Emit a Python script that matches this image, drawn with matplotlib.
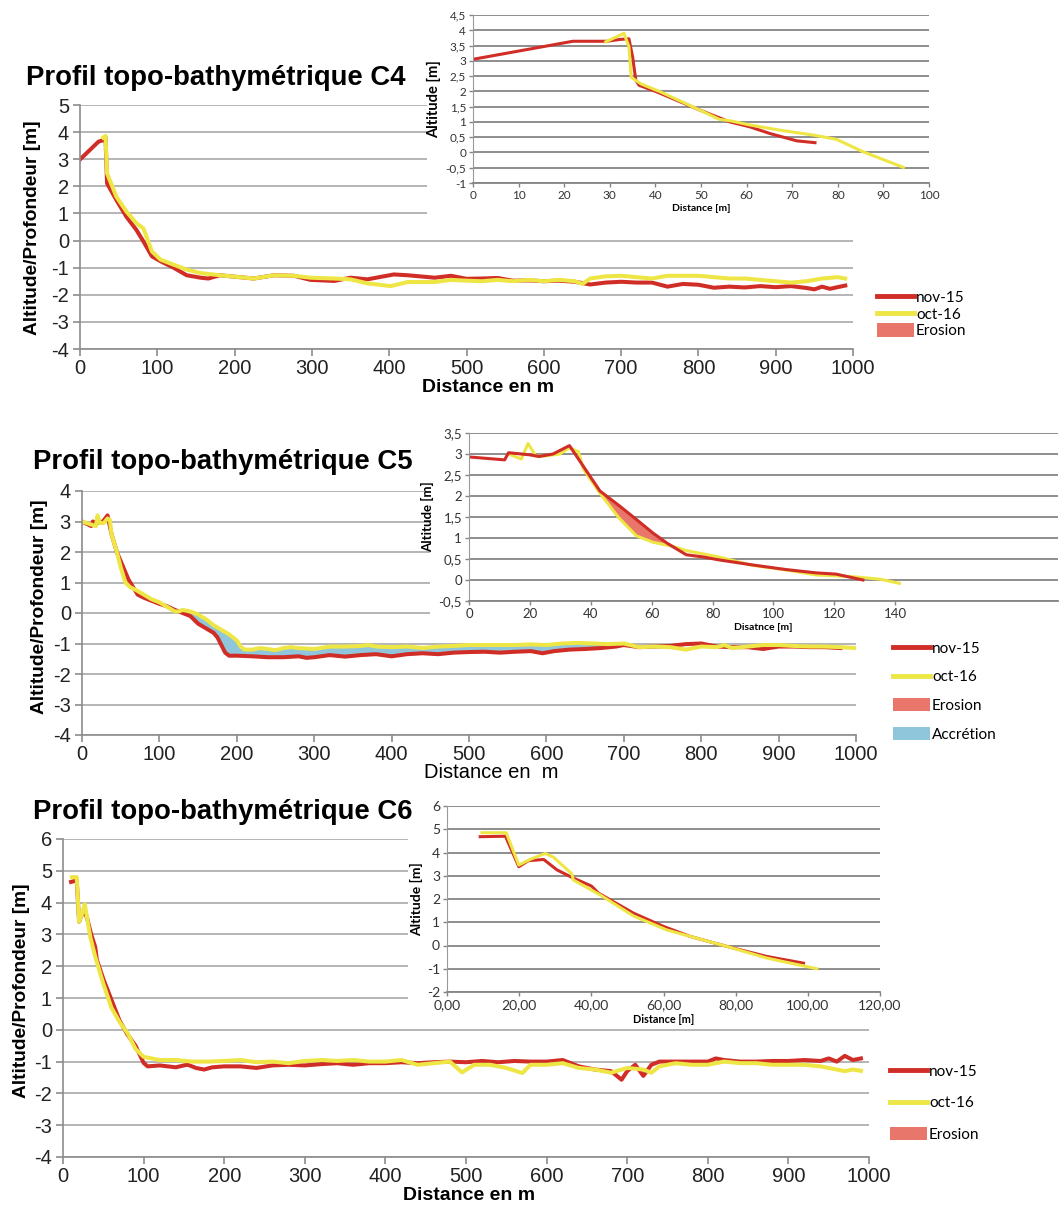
import numpy as np
import matplotlib
matplotlib.use("Agg")
import matplotlib.pyplot as plt
from matplotlib.lines import Line2D
from matplotlib.patches import Patch
from matplotlib.ticker import FuncFormatter

plt.rcParams["axes.unicode_minus"] = False

W, H = 1060, 1211
RED = "#d12d27"
YEL = "#eee645"
ERO = "#e8766b"
ACC = "#8fc6dc"
MAIN_FONT = "Liberation Sans"
INSET_FONT = "Lato"

# ---- C4 : main profile (distance m / altitude m)
c4_nov_x = [0, 24, 30, 33, 35, 47, 60, 73, 82, 93, 104, 121, 138, 156, 166, 181, 199, 225, 251, 277,
            298, 329, 350, 372, 406, 424, 459, 480, 500, 520, 540, 560, 580, 600, 620, 640, 660, 680,
            700, 720, 740, 760, 780, 800, 820, 840, 860, 880, 900, 920, 940, 950, 960, 970, 990]
c4_nov_y = [2.99, 3.65, 3.7, 3.8, 2.11, 1.5, 0.88, 0.39, -0.03, -0.58, -0.76, -1.0, -1.28, -1.37, -1.4,
            -1.28, -1.33, -1.4, -1.28, -1.3, -1.45, -1.49, -1.37, -1.43, -1.25, -1.28, -1.37, -1.3,
            -1.41, -1.4, -1.38, -1.48, -1.47, -1.5, -1.48, -1.52, -1.62, -1.55, -1.52, -1.55, -1.55,
            -1.7, -1.6, -1.63, -1.74, -1.7, -1.73, -1.68, -1.72, -1.68, -1.75, -1.8, -1.7, -1.78, -1.66]
c4_oct_x = [30, 33, 35, 47, 60, 73, 82, 93, 104, 121, 138, 156, 181, 199, 225, 251, 277, 298, 329, 350,
            372, 402, 424, 459, 480, 500, 520, 540, 560, 580, 600, 620, 640, 650, 660, 680, 700, 720,
            740, 760, 780, 800, 820, 840, 860, 880, 900, 920, 940, 960, 980, 990]
c4_oct_y = [3.8, 3.86, 2.48, 1.62, 1.07, 0.64, 0.45, -0.4, -0.7, -0.89, -1.07, -1.2, -1.28, -1.33, -1.4,
            -1.28, -1.3, -1.37, -1.4, -1.43, -1.58, -1.68, -1.53, -1.53, -1.45, -1.48, -1.5, -1.45,
            -1.5, -1.45, -1.5, -1.45, -1.5, -1.6, -1.4, -1.32, -1.3, -1.35, -1.4, -1.3, -1.3, -1.3,
            -1.35, -1.4, -1.4, -1.45, -1.5, -1.55, -1.5, -1.4, -1.35, -1.4]

# ---- C4 : inset (beach zoom)
c4i_nov_x = [0, 21.9, 29.3, 32.2, 34.2, 35, 35.7, 36.4, 40.2, 49.7, 56.3, 60.7, 65.1, 71, 75]
c4i_nov_y = [3.05, 3.64, 3.64, 3.7, 3.72, 3.13, 2.37, 2.2, 1.99, 1.39, 1.0, 0.84, 0.62, 0.38, 0.32]
c4i_oct_x = [29.1, 33.1, 34.2, 34.7, 36.9, 41, 49.7, 54.1, 56.3, 60.7, 67.3, 74.6, 79.7, 85.6, 94.4]
c4i_oct_y = [3.62, 3.9, 3.46, 2.46, 2.24, 1.99, 1.39, 1.08, 1.04, 0.9, 0.73, 0.57, 0.43, 0.02, -0.49]

# ---- C5 : main profile
c5_nov_x = [0, 12, 14, 20, 27, 33, 38, 45, 50, 55, 60, 66, 72, 80, 90, 100, 110, 120, 130, 140, 150,
            160, 170, 175, 180, 185, 190, 200, 220, 240, 260, 280, 290, 300, 320, 340, 360, 380, 400,
            420, 440, 460, 480, 500, 520, 540, 560, 580, 595, 610, 630, 650, 670, 690, 700, 720, 740,
            760, 780, 800, 820, 840, 860, 880, 900, 920, 940, 960, 980]
c5_nov_y = [3.0, 2.85, 3.0, 2.95, 3.0, 3.2, 2.6, 2.0, 1.7, 1.4, 1.1, 0.85, 0.6, 0.5, 0.4, 0.3, 0.22,
            0.1, 0.0, -0.1, -0.35, -0.5, -0.65, -0.8, -1.05, -1.3, -1.4, -1.4, -1.42, -1.45, -1.45,
            -1.42, -1.47, -1.45, -1.38, -1.43, -1.38, -1.35, -1.42, -1.35, -1.32, -1.35, -1.3, -1.28,
            -1.27, -1.3, -1.27, -1.25, -1.32, -1.25, -1.2, -1.18, -1.15, -1.1, -1.05, -1.12, -1.1,
            -1.08, -1.02, -1.0, -1.1, -1.12, -1.12, -1.18, -1.1, -1.1, -1.12, -1.12, -1.15]
c5_oct_x = [0, 12, 18, 20, 23, 28, 33, 36, 38, 45, 50, 56, 62, 70, 80, 90, 100, 110, 120, 125, 130,
            140, 150, 160, 170, 180, 190, 200, 205, 210, 220, 230, 240, 250, 260, 270, 280, 300, 320,
            340, 360, 370, 380, 400, 420, 440, 460, 480, 500, 520, 540, 560, 580, 600, 620, 640, 660,
            680, 700, 720, 740, 760, 780, 800, 820, 830, 840, 860, 880, 900, 920, 940, 960, 980, 1000]
c5_oct_y = [3.0, 2.9, 2.85, 3.2, 2.95, 2.95, 3.1, 3.05, 2.6, 2.0, 1.5, 1.0, 0.85, 0.75, 0.6, 0.45, 0.35,
            0.2, 0.05, 0.05, 0.1, 0.05, -0.05, -0.2, -0.4, -0.55, -0.7, -0.9, -1.1, -1.2, -1.2, -1.15,
            -1.18, -1.22, -1.15, -1.12, -1.15, -1.18, -1.1, -1.1, -1.08, -1.05, -1.1, -1.12, -1.1,
            -1.15, -1.1, -1.08, -1.05, -1.05, -1.05, -1.05, -1.03, -1.05, -1.0, -0.98, -1.0, -1.02,
            -1.0, -1.12, -1.1, -1.12, -1.2, -1.1, -1.12, -1.05, -1.15, -1.1, -1.05, -1.05, -1.08,
            -1.1, -1.1, -1.12, -1.15]

# ---- C5 : inset
c5i_nov_x = [0, 11.7, 13, 20, 23, 27.6, 33, 38, 43, 49.5, 55, 60.4, 65, 71.4, 76.8, 82, 93, 104, 114,
             120.6, 129.4]
c5i_nov_y = [2.93, 2.86, 3.03, 2.98, 2.94, 3.0, 3.2, 2.66, 2.12, 1.76, 1.44, 1.12, 0.88, 0.6, 0.55,
             0.48, 0.36, 0.25, 0.17, 0.14, 0.0]
c5i_oct_x = [13, 17.2, 19.4, 22, 24.5, 29.8, 33, 36, 37.5, 43, 49, 55, 60.4, 67, 71.4, 82, 93, 104,
             114, 126, 135, 141.4]
c5i_oct_y = [3.0, 2.88, 3.25, 2.95, 2.95, 3.0, 3.15, 3.05, 2.65, 2.07, 1.5, 1.05, 0.9, 0.8, 0.7, 0.55,
             0.35, 0.24, 0.12, 0.08, 0.02, -0.08]

# ---- C6 : main profile
c6_nov_x = [10, 17, 20, 23, 27, 30, 35, 40, 42, 50, 60, 70, 80, 90, 100, 105, 120, 130, 140, 150, 155,
            165, 175, 185, 200, 220, 240, 260, 280, 300, 320, 340, 360, 380, 400, 420, 440, 460, 480,
            500, 520, 540, 560, 580, 600, 620, 640, 660, 680, 693, 700, 710, 720, 730, 740, 760, 780,
            800, 810, 820, 840, 860, 880, 900, 920, 940, 950, 960, 970, 980, 990]
c6_nov_y = [4.65, 4.7, 3.4, 3.6, 3.7, 3.5, 3.0, 2.6, 2.2, 1.6, 0.95, 0.3, -0.15, -0.5, -1.04, -1.15,
            -1.12, -1.15, -1.18, -1.12, -1.1, -1.2, -1.25, -1.18, -1.15, -1.15, -1.2, -1.12, -1.1,
            -1.12, -1.08, -1.05, -1.1, -1.05, -1.05, -1.02, -1.05, -1.02, -1.0, -1.02, -0.98, -1.02,
            -0.98, -1.0, -1.0, -0.95, -1.15, -1.25, -1.3, -1.57, -1.3, -1.1, -1.45, -1.1, -1.0, -1.0,
            -1.0, -1.0, -0.9, -0.95, -1.0, -1.0, -0.98, -0.98, -0.95, -0.98, -0.9, -1.0, -0.82,
            -0.95, -0.9]
c6_oct_x = [11, 17, 20, 23, 27, 30, 34, 40, 50, 60, 70, 80, 90, 100, 110, 120, 140, 160, 180, 200,
            220, 240, 260, 280, 300, 320, 340, 360, 380, 400, 420, 440, 460, 480, 495, 510, 530, 550,
            570, 580, 600, 620, 640, 660, 680, 700, 720, 730, 740, 760, 780, 800, 820, 840, 860, 880,
            900, 920, 940, 960, 970, 980, 990]
c6_oct_y = [4.8, 4.8, 3.4, 3.6, 3.95, 3.5, 2.9, 2.3, 1.45, 0.7, 0.25, -0.1, -0.6, -0.85, -0.9, -0.95,
            -0.95, -1.0, -1.0, -0.98, -0.95, -1.02, -1.0, -1.05, -0.98, -0.95, -0.98, -0.95, -1.0,
            -1.0, -0.95, -1.1, -1.05, -1.0, -1.34, -1.1, -1.1, -1.2, -1.36, -1.1, -1.1, -1.05, -1.2,
            -1.25, -1.35, -1.2, -1.25, -1.35, -1.15, -1.05, -1.1, -1.1, -1.0, -1.05, -1.05, -1.1,
            -1.1, -1.1, -1.15, -1.25, -1.3, -1.25, -1.29]

# ---- C6 : inset
c6i_nov_x = [9.2, 16.2, 19.9, 22.6, 26.8, 30.5, 35, 40, 42, 51.7, 60, 67.4, 77.6, 88.6, 98.8]
c6i_nov_y = [4.68, 4.7, 3.39, 3.65, 3.7, 3.25, 2.9, 2.56, 2.25, 1.39, 0.82, 0.39, -0.04, -0.47, -0.76]
c6i_oct_x = [9.7, 16.4, 19.9, 23, 27.2, 29.5, 34.6, 35, 42.5, 51.7, 60.9, 67.4, 77.6, 88.6, 102.5]
c6i_oct_y = [4.85, 4.85, 3.46, 3.7, 3.96, 3.8, 3.08, 2.82, 2.17, 1.27, 0.67, 0.39, -0.04, -0.54, -1.0]

main_yticks = {"C4": np.arange(-4, 6), "C5": np.arange(-4, 5), "C6": np.arange(-4, 7)}
main_xticks = np.arange(0, 1001, 100)


def box(x0, y0, x1, y1):
    return [x0 / W, 1 - y1 / H, (x1 - x0) / W, (y1 - y0) / H]


def fpos(x, y):
    return x / W, 1 - y / H


comma = FuncFormatter(lambda v, p: ("%g" % v).replace(".", ","))
comma2 = FuncFormatter(lambda v, p: ("%.2f" % v).replace(".", ","))

fig = plt.figure(figsize=(W / 100, H / 100), dpi=100)


def main_axes(rect, yticks):
    ax = fig.add_axes(box(*rect))
    ax.set_xlim(0, 1000)
    ax.set_ylim(yticks[0], yticks[-1])
    ax.set_xticks(main_xticks)
    ax.set_yticks(yticks)
    ax.yaxis.grid(True, color="#a8a8a8", lw=1.2)
    ax.set_axisbelow(True)
    for s in ["top", "right"]:
        ax.spines[s].set_visible(False)
    for s in ["left", "bottom"]:
        ax.spines[s].set_color("#8c8c8c")
        ax.spines[s].set_linewidth(1.2)
    ax.tick_params(colors="#8c8c8c", length=5, width=1.2, direction="out")
    for lab in ax.get_xticklabels() + ax.get_yticklabels():
        lab.set_family(MAIN_FONT)
        lab.set_fontsize(14.5)
        lab.set_color("#222222")
    ax.tick_params(axis="x", pad=2)
    ax.tick_params(axis="y", pad=3)
    return ax


def inset_axes(cover, rect, xlim, xticks, ylim, yticks, xlabel, xfmt, fs, xlfs, ylfs):
    bg = fig.add_axes(box(*cover))
    bg.set_facecolor("white")
    bg.set_xticks([])
    bg.set_yticks([])
    for s in bg.spines.values():
        s.set_visible(False)
    ax = fig.add_axes(box(*rect))
    ax.set_xlim(*xlim)
    ax.set_ylim(*ylim)
    ax.set_xticks(xticks)
    ax.set_yticks(yticks)
    ax.xaxis.set_major_formatter(xfmt)
    ax.yaxis.set_major_formatter(comma)
    ax.yaxis.grid(True, color="#858585", lw=1.3)
    ax.set_axisbelow(True)
    for s in ["top", "right"]:
        ax.spines[s].set_visible(False)
    ax.spines["bottom"].set_color("#858585")
    ax.spines["bottom"].set_linewidth(1.3)
    ax.spines["left"].set_color("#9a9a9a")
    ax.spines["left"].set_linewidth(0.8)
    ax.tick_params(colors="#858585", length=3, width=1, direction="out", pad=2)
    for lab in ax.get_xticklabels() + ax.get_yticklabels():
        lab.set_family(INSET_FONT)
        lab.set_fontsize(fs)
        lab.set_color("#333333")
    ax.set_xlabel(xlabel, family=INSET_FONT, fontsize=xlfs, fontweight="bold", labelpad=2)
    ax.set_ylabel("Altitude [m]", family=INSET_FONT, fontsize=ylfs, fontweight="bold", labelpad=3)
    return ax


def legend(ax, x, y, entries, spacing):
    handles = []
    for lab in entries:
        if lab == "nov-15":
            handles.append(Line2D([], [], color=RED, lw=3.5))
        elif lab == "oct-16":
            handles.append(Line2D([], [], color=YEL, lw=3.5))
        elif lab == "Erosion":
            handles.append(Patch(facecolor=ERO, edgecolor="none"))
        else:
            handles.append(Patch(facecolor=ACC, edgecolor="none"))
    ax.legend(handles, entries, loc="upper left", bbox_to_anchor=fpos(x, y),
              bbox_transform=fig.transFigure, frameon=False, borderpad=0, borderaxespad=0,
              handlelength=2.4, handleheight=0.95, handletextpad=0.15, labelspacing=spacing,
              prop={"family": INSET_FONT, "size": 11})


def fill_between_profiles(ax, xa, ya, xb, yb, lo, hi, color):
    xa, ya, xb, yb = map(np.asarray, (xa, ya, xb, yb))
    ma = (xa >= lo) & (xa <= hi)
    mb = (xb >= lo) & (xb <= hi)
    px = np.concatenate([xa[ma], xb[mb][::-1]])
    py = np.concatenate([ya[ma], yb[mb][::-1]])
    ax.fill(px, py, color=color, lw=0, zorder=1.5)


def titles(y, x, text):
    fig.text(*fpos(x, y), text, family=MAIN_FONT, fontsize=19.8, fontweight="bold",
             ha="left", va="center")


# =================== C4 ===================
ax4 = main_axes((80, 105, 853, 349), main_yticks["C4"])
ax4.plot(c4_nov_x, c4_nov_y, color=RED, lw=2.9, zorder=2)
ax4.plot(c4_oct_x, c4_oct_y, color=YEL, lw=2.9, zorder=2.1)
titles(78, 26, "Profil topo-bathymétrique C4")
fig.text(*fpos(33, 228), "Altitude/Profondeur [m]", family=MAIN_FONT, fontsize=13.8,
         fontweight="bold", rotation=90, ha="center", va="center")
fig.text(*fpos(488, 388), "Distance en m", family=MAIN_FONT, fontsize=14,
         fontweight="bold", ha="center", va="center")
legend(ax4, 877, 290, ["nov-15", "oct-16", "Erosion"], 0.12)

ai4 = inset_axes((427, 0, 1060, 232), (473, 15, 929, 183), (0, 100), np.arange(0, 101, 10),
                 (-1, 4.5), np.arange(-1, 4.51, 0.5), "Distance [m]", comma, 8.5, 7.5, 10.5)
ai4.plot(c4i_nov_x, c4i_nov_y, color=RED, lw=2.2)
ai4.plot(c4i_oct_x, c4i_oct_y, color=YEL, lw=2.2)

# =================== C5 ===================
ax5 = main_axes((82, 491, 856, 735), main_yticks["C5"])
fill_between_profiles(ax5, c5_oct_x, c5_oct_y, c5_nov_x, c5_nov_y, 140, 690, ACC)
ax5.plot(c5_nov_x, c5_nov_y, color=RED, lw=2.9, zorder=2)
ax5.plot(c5_oct_x, c5_oct_y, color=YEL, lw=2.9, zorder=2.1)
titles(462, 33, "Profil topo-bathymétrique C5")
fig.text(*fpos(40, 607), "Altitude/Profondeur [m]", family=MAIN_FONT, fontsize=13.8,
         fontweight="bold", rotation=90, ha="center", va="center")
fig.text(*fpos(491, 773), "Distance en  m", family=MAIN_FONT, fontsize=14.5,
         ha="center", va="center")
legend(ax5, 893, 641, ["nov-15", "oct-16", "Erosion", "Accrétion"], 0.9)

ai5 = inset_axes((430, 420, 1060, 628), (469, 433, 1058, 601), (0, 193.5), np.arange(0, 141, 20),
                 (-0.5, 3.5), np.arange(-0.5, 3.51, 0.5), "Disatnce [m]", comma, 9.5, 7.5, 9.5)
fill_between_profiles(ai5, c5i_nov_x, c5i_nov_y, c5i_oct_x, c5i_oct_y, 37.5, 67, ERO)
ai5.plot(c5i_oct_x, c5i_oct_y, color=YEL, lw=2.2)
ai5.plot(c5i_nov_x, c5i_nov_y, color=RED, lw=2.2)

# =================== C6 ===================
ax6 = main_axes((63, 839, 869, 1157), main_yticks["C6"])
ax6.plot(c6_nov_x, c6_nov_y, color=RED, lw=2.9, zorder=2)
ax6.plot(c6_oct_x, c6_oct_y, color=YEL, lw=2.9, zorder=2.1)
titles(812, 33, "Profil topo-bathymétrique C6")
fig.text(*fpos(22, 991), "Altitude/Profondeur [m]", family=MAIN_FONT, fontsize=13.8,
         fontweight="bold", rotation=90, ha="center", va="center")
fig.text(*fpos(469, 1196), "Distance en m", family=MAIN_FONT, fontsize=14,
         fontweight="bold", ha="center", va="center")
legend(ax6, 890, 1064, ["nov-15", "oct-16", "Erosion"], 1.1)

ai6 = inset_axes((408, 795, 1060, 1026), (447, 806, 880, 992), (0, 120), np.arange(0, 121, 20),
                 (-2, 6), np.arange(-2, 7, 1), "Distance [m]", comma2, 10, 7.8, 10)
ai6.plot(c6i_nov_x, c6i_nov_y, color=RED, lw=2.2)
ai6.plot(c6i_oct_x, c6i_oct_y, color=YEL, lw=2.2)

fig.savefig("out.png", dpi=100, facecolor="white")
